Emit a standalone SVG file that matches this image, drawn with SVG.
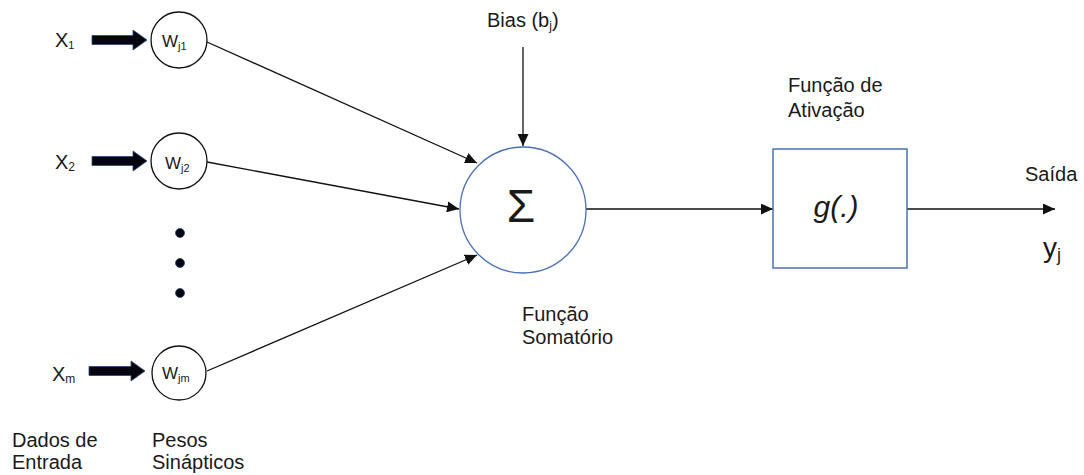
<svg xmlns="http://www.w3.org/2000/svg" width="1084" height="475" viewBox="0 0 1084 475">
<style>
  text { font-family: "Liberation Sans", Arial, sans-serif; fill: #1a1a1a; }
  .lbl { font-size: 20px; }
  .w { font-size: 17px; }
  .sub { font-size: 11px; }
  .conn { stroke: #111; stroke-width: 1.3; fill: none; marker-end: url(#ah); }
  .wc { fill: #fff; stroke: #111; stroke-width: 1.3; }
  .thick { fill: #050510; stroke: #2a4678; stroke-width: 0.8; }
  .dot { fill: #050510; stroke: #2a4678; stroke-width: 0.8; }
</style>
<defs>
  <marker id="ah" markerUnits="userSpaceOnUse" markerWidth="12" markerHeight="11" refX="12" refY="5.5" orient="auto">
    <path d="M0,0 L12,5.5 L0,11 z" fill="#111"/>
  </marker>
</defs>
<rect width="1084" height="475" fill="#fff"/>

<g id="connectors">
  <line class="conn" x1="207" y1="42" x2="477" y2="163"/>
  <line class="conn" x1="207" y1="162" x2="459" y2="209"/>
  <line class="conn" x1="207" y1="371" x2="477" y2="255"/>
  <line class="conn" x1="523" y1="47" x2="523" y2="146"/>
  <line class="conn" x1="586" y1="209" x2="773" y2="209"/>
  <line class="conn" x1="907" y1="209" x2="1055" y2="209"/>
</g>

<g id="input-x1">
  <text class="lbl" x="55" y="47">X<tspan class="sub" font-size="12" dy="2">1</tspan></text>
  <path class="thick" d="M92,35.5 H133 V30 L147,40 L133,50 V44.5 H92 Z"/>
</g>
<g id="input-x2">
  <text class="lbl" x="55" y="169">X<tspan font-size="12" dy="2">2</tspan></text>
  <path class="thick" d="M92,156.5 H133 V151 L147,161 L133,171 V165.5 H92 Z"/>
</g>
<g id="input-xm">
  <text class="lbl" x="52" y="381">X<tspan font-size="12" dy="2">m</tspan></text>
  <path class="thick" d="M89,366.5 H131 V361 L145,371 L131,381 V375.5 H89 Z"/>
</g>

<g id="weight-wj1">
  <circle class="wc" cx="179" cy="40" r="28"/>
  <text class="w" x="162" y="47">W<tspan class="sub" dy="3">j1</tspan></text>
</g>
<g id="weight-wj2">
  <circle class="wc" cx="179" cy="161" r="28"/>
  <text class="w" x="165" y="169">W<tspan class="sub" dy="3">j2</tspan></text>
</g>
<g id="ellipsis">
  <circle class="dot" cx="180" cy="233" r="4.5"/>
  <circle class="dot" cx="180" cy="263" r="4.5"/>
  <circle class="dot" cx="180" cy="293" r="4.5"/>
</g>
<g id="weight-wjm">
  <circle class="wc" cx="179" cy="373" r="27"/>
  <text class="w" x="162" y="379">W<tspan class="sub" dy="3">jm</tspan></text>
</g>

<g id="bias">
  <text class="lbl" x="487" y="27">Bias (b<tspan font-size="12" dy="3">j</tspan><tspan dy="-3">)</tspan></text>
</g>

<g id="sum">
  <circle cx="523" cy="210" r="63" fill="#fff" stroke="#4a70b0" stroke-width="1.3"/>
  <text x="521" y="222" font-size="46" text-anchor="middle">Σ</text>
  <text class="lbl" x="522" y="321">Função</text>
  <text class="lbl" x="522" y="344">Somatório</text>
</g>

<g id="activation">
  <rect x="773" y="149" width="134" height="119" fill="#fff" stroke="#4a70b0" stroke-width="1.5"/>
  <text x="836" y="217" font-size="30" font-style="italic" text-anchor="middle">g(.)</text>
  <text class="lbl" x="788" y="92">Função de</text>
  <text class="lbl" x="788" y="117">Ativação</text>
</g>

<g id="output">
  <text class="lbl" x="1025" y="181">Saída</text>
  <text x="1043" y="257" font-size="28">y<tspan font-size="18" dy="4">j</tspan></text>
</g>

<g id="captions">
  <text class="lbl" x="12" y="447">Dados de</text>
  <text class="lbl" x="12" y="469">Entrada</text>
  <text class="lbl" x="152" y="447">Pesos</text>
  <text class="lbl" x="152" y="469">Sinápticos</text>
</g>
</svg>
